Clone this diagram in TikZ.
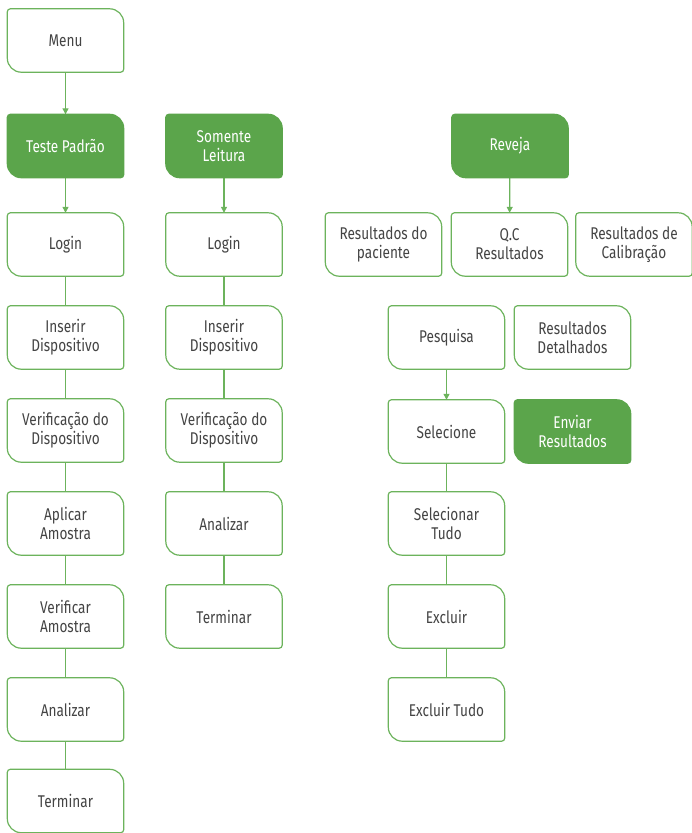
\documentclass[tikz,border=0pt]{standalone}
\usepackage{fontspec}
\setmainfont[FakeStretch=0.8]{Fira Sans}
\usetikzlibrary{arrows.meta,backgrounds}
\definecolor{leafgreen}{HTML}{5BA54B}
\definecolor{edgegreen}{HTML}{6CB35C}
\definecolor{textgrey}{HTML}{444444}
\newcommand{\leafbox}[2]{\draw[#2] ([xshift=3pt]#1.north west) -- ([xshift=-14pt]#1.north east)
  arc[start angle=90,end angle=0,radius=14pt] -- ([yshift=3pt]#1.south east)
  arc[start angle=0,end angle=-90,radius=3pt] -- ([xshift=14pt]#1.south west)
  arc[start angle=270,end angle=180,radius=14pt] -- ([yshift=-3pt]#1.north west)
  arc[start angle=180,end angle=90,radius=3pt] -- cycle;}
\begin{document}
\begin{tikzpicture}
    [
    x=1pt,y=-1pt,
    leaf/.style={minimum width=116pt,minimum height=63pt,inner sep=0pt,align=center,text=textgrey,font=\fontsize{17}{19}\selectfont},
    head/.style={leaf,text=white},
    link/.style={edgegreen,line width=1.2pt},
    outline/.style={edgegreen,line width=1.2pt,fill=white},
    solid/.style={leafgreen,line width=1.2pt,fill=leafgreen}
    ]
    \useasboundingbox (0,0) rectangle (692,833);
    % first column
    \node (menu) at (65.5,40.5) [leaf] {Menu};
    \node (a0) at (65.5,146) [head] {Teste Padrão};
    \node (a1) at (65.5,244.5) [leaf] {Login};
    \node (a2) at (65.5,337.5) [leaf] {Inserir\\Dispositivo};
    \node (a3) at (65.5,430.5) [leaf] {Verificação do\\Dispositivo};
    \node (a4) at (65.5,523.5) [leaf] {Aplicar\\Amostra};
    \node (a5) at (65.5,616.5) [leaf] {Verificar\\Amostra};
    \node (a6) at (65.5,709.5) [leaf] {Analizar};
    \node (a7) at (65.5,801) [leaf] {Terminar};
    % second column
    \node (b0) at (224,146) [head] {Somente\\Leitura};
    \node (b1) at (224,244.5) [leaf] {Login};
    \node (b2) at (224,337.5) [leaf] {Inserir\\Dispositivo};
    \node (b3) at (224,430.5) [leaf] {Verificação do\\Dispositivo};
    \node (b4) at (224,523.5) [leaf] {Analizar};
    \node (b5) at (224,616.5) [leaf] {Terminar};
    % review
    \node (c0) at (510,146) [head] {Reveja};
    \node (c1) at (383.5,244.5) [leaf] {Resultados do\\paciente};
    \node (c2) at (509.5,244.5) [leaf] {Q.C\\Resultados};
    \node (c3) at (634,244.5) [leaf] {Resultados de\\Calibração};
    \node (d1) at (446.5,337.5) [leaf] {Pesquisa};
    \node (e1) at (572.5,337.5) [leaf] {Resultados\\Detalhados};
    \node (d2) at (446.5,431.5) [leaf] {Selecione};
    \node (e2) at (572.5,431.5) [head] {Enviar\\Resultados};
    \node (d3) at (446.5,523.5) [leaf] {Selecionar\\Tudo};
    \node (d4) at (446.5,616.5) [leaf] {Excluir};
    \node (d5) at (446.5,709.5) [leaf] {Excluir Tudo};
    \begin{scope}[on background layer]
    \draw [link,-{Triangle[width=6pt,length=6pt]}] (menu) to (a0);
    \draw [link,-{Triangle[width=6pt,length=6pt]}] (a0) to (a1);
    \draw [link,-{Triangle[width=6pt,length=6pt]}] (b0) to (b1);
    \draw [link,-{Triangle[width=6pt,length=6pt]}] (c0) to (c2);
    \draw [link,-{Triangle[width=6pt,length=6pt]}] (d1) to (d2);
    \draw [link] (a1) to (a2);
    \draw [link] (a2) to (a3);
    \draw [link] (a3) to (a4);
    \draw [link] (a4) to (a5);
    \draw [link] (a5) to (a6);
    \draw [link] (a6) to (a7);
    \draw [link] (b1) to (b2);
    \draw [link] (b2) to (b3);
    \draw [link] (b3) to (b4);
    \draw [link] (b4) to (b5);
    \draw [link] (d2) to (d3);
    \draw [link] (d3) to (d4);
    \draw [link] (d4) to (d5);
    \foreach \n in {menu,a1,a2,a3,a4,a5,a6,a7,b1,b2,b3,b4,b5,c1,c2,c3,d1,e1,d2,d3,d4,d5}
      {\leafbox{\n}{outline}}
    \foreach \n in {a0,b0,c0,e2}
      {\leafbox{\n}{solid}}
    \end{scope}
\end{tikzpicture}
\end{document}
